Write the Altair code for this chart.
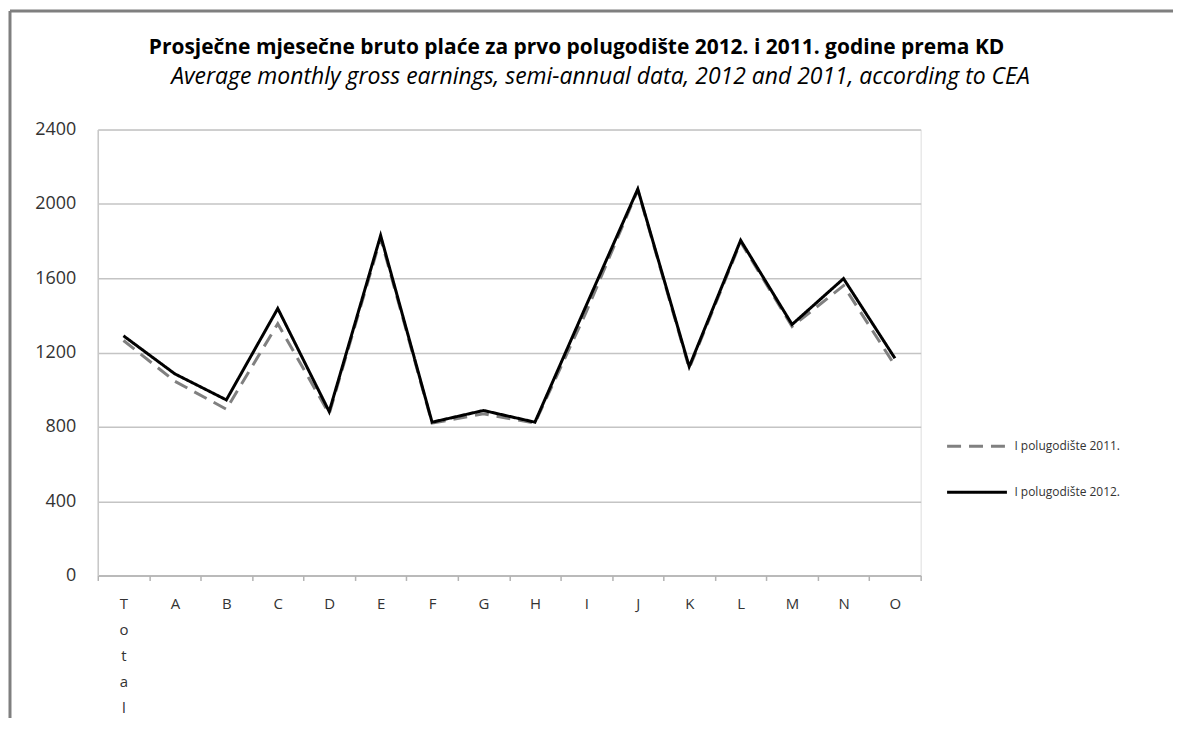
import altair as alt
import pandas as pd

categories = ["Total", "A", "B", "C", "D", "E", "F", "G", "H", "I", "J", "K", "L", "M", "N", "O"]
values_2011 = [1265, 1045, 895, 1355, 870, 1815, 820, 870, 820, 1420, 2075, 1115, 1795, 1340, 1560, 1130]
values_2012 = [1290, 1085, 945, 1437, 882, 1830, 825, 888, 825, 1455, 2080, 1124, 1804, 1351, 1598, 1169]
series_names = ["I polugodište 2011.", "I polugodište 2012."]
y_ticks = [0, 400, 800, 1200, 1600, 2000, 2400]
title_text = "Prosječne mjesečne bruto plaće za prvo polugodište 2012. i 2011. godine prema KD"
subtitle_text = "Average monthly gross earnings, semi-annual data, 2012 and 2011, according to CEA"

rows = []
for c, a, b in zip(categories, values_2011, values_2012):
    rows.append({"cat": c, "val": a, "series": series_names[0]})
    rows.append({"cat": c, "val": b, "series": series_names[1]})
df = pd.DataFrame(rows)

FONT = "Open Sans"

legend_cfg = dict(title=None, orient="none", legendX=850, legendY=286,
                  symbolType="stroke", symbolSize=3600, symbolStrokeWidth=3,
                  labelFont=FONT, labelFontSize=12, labelColor="#333333",
                  rowPadding=8, labelOffset=6)

lines = alt.Chart(df).mark_line(strokeWidth=3).encode(
    x=alt.X("cat:N", sort=categories,
            scale=alt.Scale(paddingInner=0, paddingOuter=0),
            axis=alt.Axis(title=None, labelAngle=0, tickBand="extent", grid=False,
                          domainColor="#b3b3b3", domainWidth=1.5, tickColor="#b3b3b3", tickSize=5,
                          tickWidth=1.5,
                          labelPadding=16, labelFontSize=15, labelColor="#333333",
                          labelFont=FONT, labelLineHeight=26,
                          labelExpr="datum.value == 'Total' ? ['T','o','t','a','l'] : datum.value")),
    y=alt.Y("val:Q", scale=alt.Scale(domain=[0, 2400], nice=False),
            axis=alt.Axis(title=None, values=y_ticks, format="d", ticks=False,
                          domainColor="#c8c8c8", domainWidth=1.5,
                          gridColor="#c4c4c4", gridWidth=1.5, labelPadding=22,
                          labelFontSize=18, labelColor="#333333", labelFont=FONT)),
    color=alt.Color("series:N", scale=alt.Scale(domain=series_names, range=["#808080", "#000000"]),
                    legend=alt.Legend(**legend_cfg)),
    strokeDash=alt.StrokeDash("series:N",
                              scale=alt.Scale(domain=series_names, range=[[14, 8], [1, 0]]),
                              legend=alt.Legend(**legend_cfg)),
    order=alt.Order("series:N", sort="ascending"),
)

frame_data = pd.DataFrame({"k": [0]})
frame_top = alt.Chart(frame_data).mark_rule(color="#7f7f7f", strokeWidth=3).encode(
    x=alt.value(-88), x2=alt.value(1078), y=alt.value(-119))
frame_left = alt.Chart(frame_data).mark_rule(color="#7f7f7f", strokeWidth=3).encode(
    x=alt.value(-88), y=alt.value(-119), y2=alt.value(590))

title_mark = alt.Chart(frame_data).mark_text(
    font=FONT, fontSize=21, fontWeight="bold", color="#000000", align="center", baseline="middle"
).encode(x=alt.value(480), y=alt.value(-82), text=alt.value(title_text))
subtitle_mark = alt.Chart(frame_data).mark_text(
    font=FONT, fontSize=23, fontStyle="italic", color="#000000", align="center", baseline="middle"
).encode(x=alt.value(504), y=alt.value(-53), text=alt.value(subtitle_text))

chart = alt.layer(lines, frame_top, frame_left, title_mark, subtitle_mark).properties(
    width=825, height=447,
    padding={"left": 0, "top": 0, "right": 0, "bottom": 0},
).configure_view(stroke=None).configure(background="#ffffff")

chart.save("out.html", embed_options={"renderer": "svg", "actions": False})
